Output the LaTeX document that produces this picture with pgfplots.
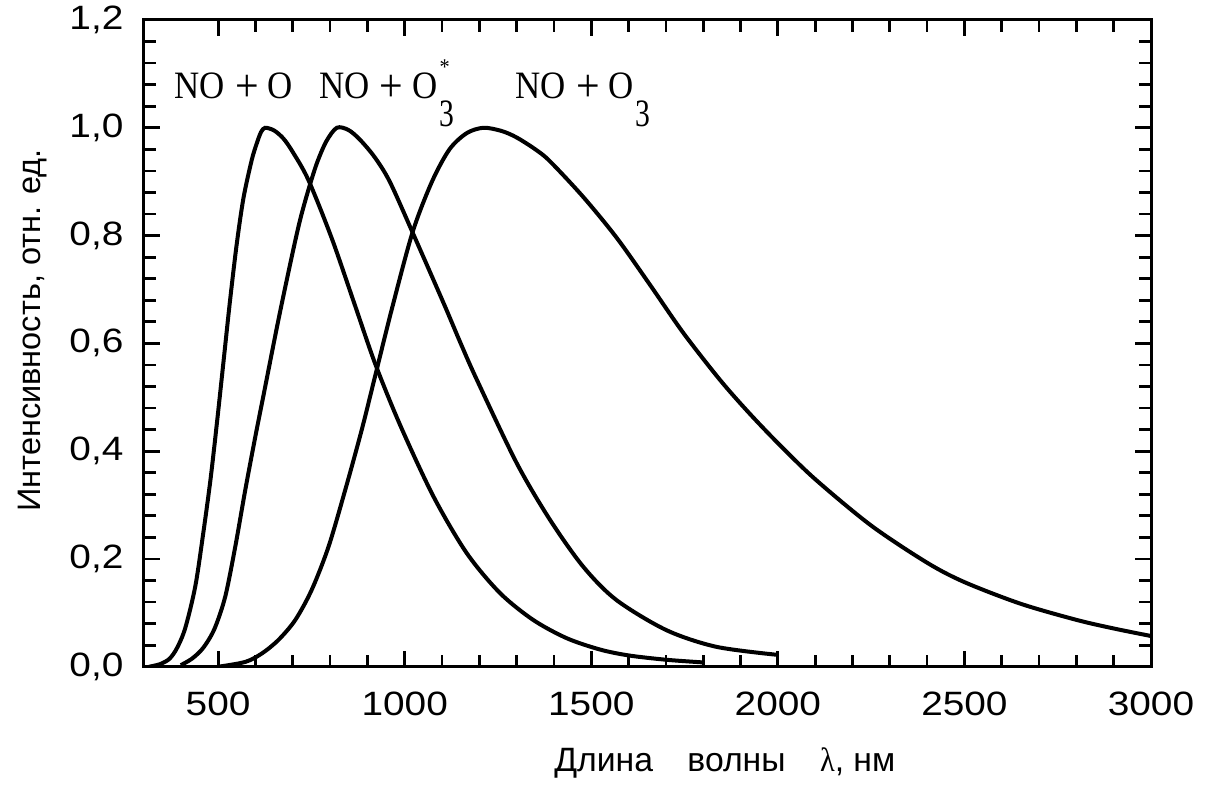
\documentclass[border=0pt]{standalone}
\usepackage{fontspec}
\setmainfont{Liberation Sans}
\newfontfamily\ticksf{Liberation Sans}[FakeStretch=1.15]
\newfontfamily\tms{Liberation Serif}[FakeStretch=0.9]
\usepackage{graphicx}
\usepackage{pgfplots}
\pgfplotsset{compat=1.18}
\newcommand{\pl}{\hspace{4.2pt}\raisebox{-1.1pt}{\scalebox{1.2}{+}}\hspace{3.6pt}}
\newcommand{\Othree}{O\hspace{0.8pt}\raisebox{-11.2pt}{\scalebox{0.85}[1]{3}}}
\newcommand{\Othreestar}{O\hspace{0.8pt}\rlap{\raisebox{9.5pt}{\fontsize{9}{9}\tms *}}\raisebox{-11.2pt}{\scalebox{0.85}[1]{3}}}
\begin{document}
\begin{tikzpicture}
\useasboundingbox (-57.4pt,-50.9pt) rectangle (427pt,266.7pt);
\begin{axis}[
  at={(0,0)}, anchor=south west, scale only axis,
  width=403pt, height=258.7pt,
  xmin=300, xmax=3000, ymin=0, ymax=1.2,
  xtick={500,1000,1500,2000,2500,3000}, minor x tick num=4,
  ytick={0,0.2,0.4,0.6,0.8,1.0,1.2}, minor y tick num=4,
  xtick pos=both, ytick pos=both,
  tick align=inside,
  major tick length=6.4pt, minor tick length=4.8pt,
  every tick/.style={black, line width=1.1pt},
  axis line style={line width=1.2pt},
  /pgf/number format/assume math mode=true,
  xticklabel style={font=\fontsize{13.5}{15}\ticksf, yshift=-6.5pt, /pgf/number format/1000 sep={}},
  yticklabel style={font=\fontsize{13.5}{15}\ticksf, xshift=-4.5pt, /pgf/number format/.cd, use comma, fixed, fixed zerofill, precision=1},
  xlabel={Длина\hspace{10pt} волны\hspace{10pt} {\tms λ}, нм},
  ylabel={Интенсивность, отн. ед.},
  xlabel style={font=\fontsize{13.5}{16}\selectfont, at={(axis description cs:0.577,-0.1624)}, anchor=base},
  ylabel style={font=\fontsize{13}{16}\selectfont, at={(axis description cs:-0.1027,0.52)}, anchor=base},
]
\addplot[black, line width=1.6pt, smooth] coordinates {(315,0) (345,0.005) (370,0.015) (390,0.035) (412,0.072) (439,0.15) (461,0.252) (480,0.35) (498,0.46) (515,0.57) (532,0.68) (550,0.785) (568,0.87) (590,0.94) (604,0.972) (615,0.992) (626,1.0) (650,0.995) (675,0.98) (700,0.955) (742,0.903) (805,0.794) (866,0.672) (921,0.562) (988,0.448) (1077,0.316) (1166,0.211) (1255,0.137) (1344,0.087) (1434,0.053) (1523,0.032) (1600,0.021) (1700,0.013) (1800,0.008)};
\addplot[black, line width=1.6pt, smooth] coordinates {(400,0.003) (430,0.015) (460,0.035) (490,0.07) (519,0.13) (546,0.223) (573,0.329) (600,0.428) (622,0.505) (662,0.645) (698,0.763) (720,0.83) (742,0.885) (765,0.935) (790,0.975) (818,1.0) (849,0.996) (880,0.978) (920,0.945) (960,0.9) (1021,0.806) (1104,0.675) (1150,0.6) (1193,0.533) (1300,0.378) (1389,0.273) (1478,0.186) (1567,0.124) (1701,0.068) (1835,0.037) (2000,0.022)};
\addplot[black, line width=1.6pt, smooth] coordinates {(500,0) (573,0.009) (618,0.025) (662,0.050) (707,0.087) (751,0.143) (796,0.223) (841,0.329) (885,0.44) (921,0.54) (966,0.665) (1021,0.806) (1073,0.9) (1120,0.96) (1166,0.99) (1211,1.0) (1260,0.994) (1300,0.982) (1350,0.96) (1389,0.938) (1478,0.872) (1568,0.796) (1657,0.709) (1746,0.620) (1844,0.533) (1920,0.473) (2000,0.415) (2100,0.348) (2250,0.262) (2400,0.193) (2500,0.157) (2650,0.117) (2800,0.087) (2900,0.071) (3000,0.057)};
\node[anchor=base west, font=\fontsize{15.5}{17}\tms, inner sep=0pt] at (axis cs:381,1.0546) {NO\pl O};
\node[anchor=base west, font=\fontsize{15.5}{17}\tms, inner sep=0pt] at (axis cs:769,1.0546) {NO\pl\Othreestar};
\node[anchor=base west, font=\fontsize{15.5}{17}\tms, inner sep=0pt] at (axis cs:1295,1.0546) {NO\pl\Othree};
\end{axis}
\end{tikzpicture}
\end{document}
